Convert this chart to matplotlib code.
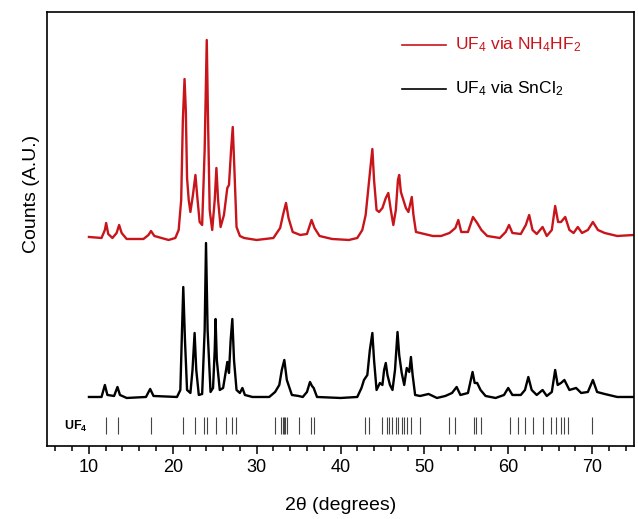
import matplotlib

matplotlib.use("Agg")
import matplotlib.pyplot as plt
from matplotlib.ticker import MultipleLocator

plt.rcParams["font.family"] = ["Liberation Sans", "DejaVu Sans"]
plt.rcParams["mathtext.fontset"] = "custom"
plt.rcParams["mathtext.rm"] = "Liberation Sans"
plt.rcParams["mathtext.it"] = "Liberation Sans:italic"
plt.rcParams["mathtext.bf"] = "Liberation Sans:bold"

# UF4 via NH4HF2 (red), intensity above its own baseline
red_2theta = [10.0, 11.5, 11.9, 12.05, 12.3, 12.8, 13.3, 13.6, 13.9, 14.5, 16.5, 17.1, 17.4,
              17.8, 19.5, 20.3, 20.7, 21.0, 21.2, 21.4, 21.55, 21.7, 21.9, 22.1, 22.4, 22.7,
              22.9, 23.2, 23.5, 23.8, 24.05, 24.2, 24.4, 24.7, 25.0, 25.2, 25.4, 25.7, 26.1,
              26.5, 26.7, 26.95, 27.15, 27.35, 27.6, 28.0, 28.5, 30.0, 32.0, 32.8, 33.2, 33.5,
              33.8, 34.3, 35.2, 36.0, 36.55, 36.9, 37.5, 39.0, 41.0, 42.0, 42.6, 43.0, 43.3,
              43.6, 43.8, 44.0, 44.3, 44.6, 45.0, 45.4, 45.7, 46.0, 46.3, 46.6, 46.85, 47.0,
              47.2, 47.5, 47.8, 48.1, 48.5, 48.7, 49.0, 50.0, 51.0, 52.0, 53.0, 53.7, 54.05,
              54.4, 55.2, 55.8, 56.3, 56.8, 57.5, 59.0, 59.7, 60.1, 60.5, 61.5, 62.1, 62.5,
              62.9, 63.4, 64.1, 64.6, 65.2, 65.6, 65.95, 66.3, 66.8, 67.3, 67.8, 68.3, 68.8,
              69.5, 70.1, 70.7, 71.5, 73.0, 75.0]
red_counts = [3, 2, 10, 17, 6, 2, 7, 15, 7, 1, 1, 5, 9,
              4, 0, 2, 10, 40, 120, 161, 130, 62, 40, 28, 45, 65,
              45, 18, 15, 90, 200, 120, 30, 10, 40, 72, 40, 13, 25,
              52, 55, 90, 113, 70, 13, 4, 2, 0, 2, 12, 27, 37,
              22, 8, 5, 6, 20, 12, 4, 1, 0, 2, 10, 25, 50,
              75, 91, 60, 30, 28, 32, 42, 47, 30, 15, 30, 60, 65,
              48, 40, 32, 28, 43, 25, 8, 6, 4, 4, 7, 12, 20,
              8, 8, 23, 17, 10, 4, 2, 8, 15, 7, 6, 15, 25,
              10, 6, 13, 4, 10, 34, 18, 18, 23, 10, 7, 13, 7,
              10, 18, 10, 7, 4, 5]

# UF4 via SnCl2 (black)
black_2theta = [10.0, 11.5, 11.9, 12.2, 13.0, 13.4, 13.7, 14.5, 16.8, 17.3, 17.7, 20.5, 20.9,
                21.1, 21.25, 21.45, 21.7, 22.1, 22.35, 22.6, 22.8, 23.1, 23.5, 23.8, 23.96,
                24.15, 24.5, 24.8, 25.0, 25.1, 25.25, 25.6, 26.0, 26.35, 26.5, 26.7, 26.9,
                27.1, 27.3, 27.6, 28.0, 28.3, 28.6, 29.5, 31.5, 32.2, 32.7, 33.0, 33.3, 33.6,
                34.2, 35.0, 35.5, 36.0, 36.36, 36.6, 36.8, 37.2, 40.0, 42.0, 42.5, 42.8, 43.2,
                43.5, 43.8, 44.0, 44.3, 44.7, 45.0, 45.2, 45.4, 45.6, 45.9, 46.2, 46.5, 46.8,
                47.0, 47.3, 47.6, 47.9, 48.2, 48.4, 48.6, 48.9, 49.5, 50.5, 51.5, 52.5, 53.3,
                53.85, 54.3, 55.2, 55.75, 56.0, 56.3, 56.7, 57.3, 58.5, 59.5, 60.0, 60.5, 61.5,
                62.0, 62.4, 62.8, 63.4, 64.1, 64.6, 65.2, 65.6, 65.9, 66.3, 66.7, 67.3, 68.1,
                68.7, 69.5, 70.1, 70.6, 71.5, 73.0, 75.0]
black_counts = [1, 1, 13, 3, 2, 11, 3, 0, 1, 9, 2, 1, 8,
                68, 111, 58, 8, 5, 28, 65, 28, 3, 4, 68, 155,
                68, 6, 10, 48, 79, 38, 8, 10, 28, 36, 25, 58,
                79, 38, 8, 5, 10, 3, 1, 1, 6, 13, 28, 38, 18,
                3, 2, 1, 6, 16, 12, 10, 1, 0, 1, 10, 18, 23,
                48, 65, 38, 8, 15, 13, 28, 35, 23, 13, 8, 28, 66,
                43, 25, 13, 30, 26, 41, 23, 3, 2, 4, 0, 2, 5,
                11, 3, 5, 26, 15, 15, 8, 2, 0, 3, 10, 3, 3,
                8, 21, 8, 3, 8, 2, 6, 28, 13, 15, 18, 8, 10,
                5, 6, 18, 6, 4, 1, 1]

# reference reflections for UF4
uf4_ref = [12.0, 13.5, 17.4, 21.2, 22.7, 23.76, 24.04, 25.1, 26.4, 27.1, 27.5, 32.2, 32.9,
           33.1, 33.3, 33.4, 33.65, 35.1, 36.45, 36.8, 42.9, 43.4, 45.0, 45.5, 45.8, 46.1,
           46.6, 46.9, 47.3, 47.6, 47.9, 48.4, 49.5, 52.9, 53.7, 55.9, 56.2, 56.75, 60.2,
           61.2, 62.0, 62.9, 64.2, 65.1, 65.7, 66.3, 66.7, 67.1, 70.0]

RED = "#c8151b"
red_offset = 206
black_offset = 48

fig = plt.figure(figsize=(6.38, 5.19), dpi=100)
ax = fig.add_axes([0.0737, 0.1407, 0.92, 0.8362])

ax.plot(red_2theta, [c + red_offset for c in red_counts], color=RED, lw=1.7)
ax.plot(black_2theta, [c + black_offset for c in black_counts], color="black", lw=1.7)
ax.vlines(uf4_ref, 12, 29, color="#444444", lw=0.8)
ax.text(7.0, 20, r"UF$_\mathbf{4}$", fontsize=9, fontweight="bold", va="center", ha="left")

# legend drawn by hand to match placement
ax.plot([47.3, 52.6], [401, 401], color=RED, lw=1.2)
ax.text(53.7, 401, r"UF$_4$ via NH$_4$HF$_2$", color=RED, fontsize=12.5, va="center")
ax.plot([47.3, 52.6], [357, 357], color="black", lw=1.2)
ax.text(53.7, 357, r"UF$_4$ via SnCl$_2$", color="black", fontsize=12.5, va="center")

ax.set_xlim(5, 75)
ax.set_ylim(0, 434)
ax.xaxis.set_major_locator(MultipleLocator(10))
ax.xaxis.set_minor_locator(MultipleLocator(2))
ax.tick_params(axis="x", which="major", direction="out", length=6, width=1.1, labelsize=13)
ax.tick_params(axis="x", which="minor", direction="out", length=3.5, width=1.1)
ax.set_yticks([])
for sp in ax.spines.values():
    sp.set_linewidth(1.2)

ax.set_xlabel("2θ (degrees)", fontsize=14, labelpad=15)
ax.set_ylabel("Counts (A.U.)", fontsize=14)
ax.yaxis.set_label_coords(-0.012, 0.58)

fig.savefig("out.png", dpi=100)
